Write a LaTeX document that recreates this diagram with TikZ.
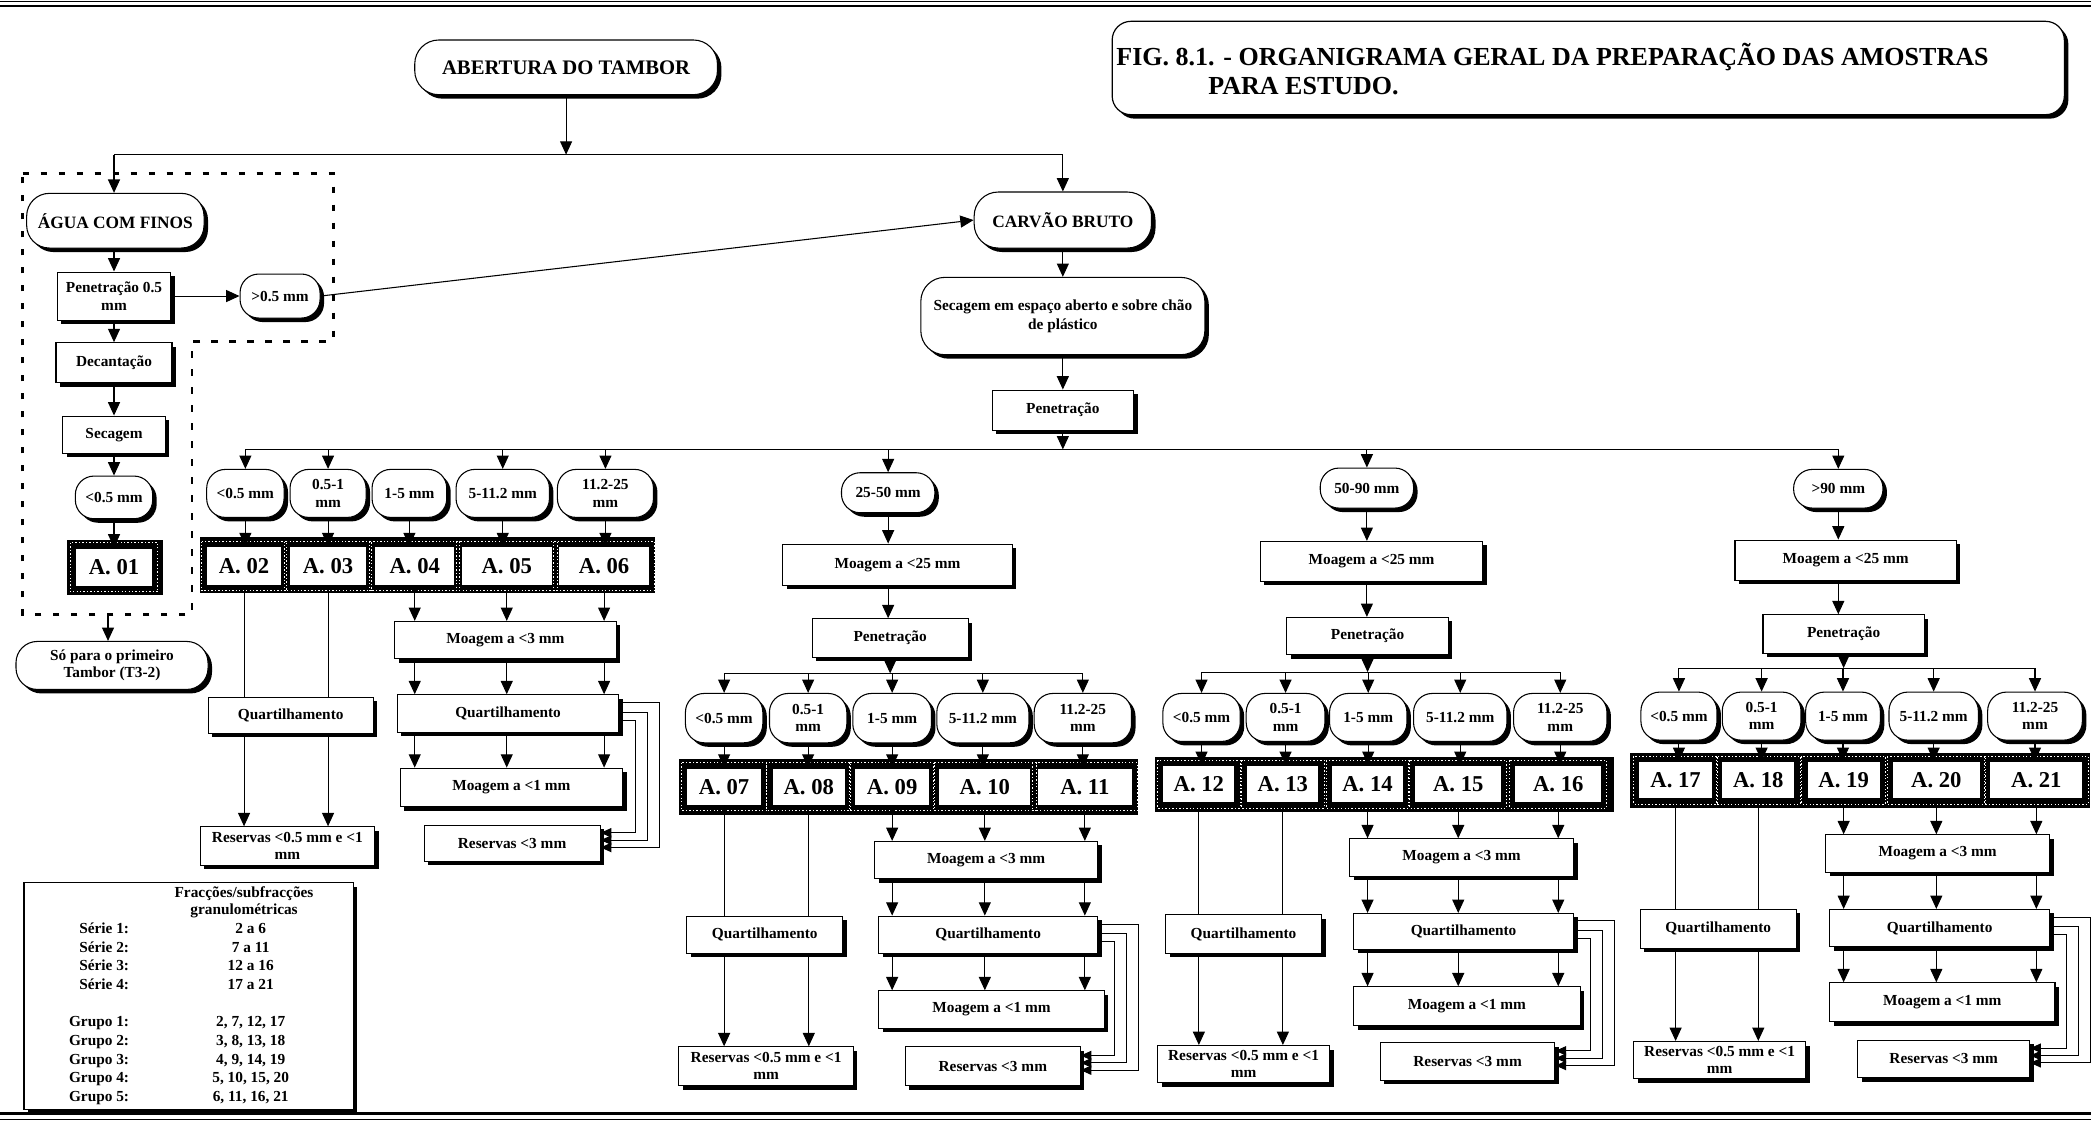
\documentclass[tikz,border=0pt]{standalone}
\usepackage{fontspec}
\setmainfont{Liberation Serif}
\usetikzlibrary{arrows.meta,shadows}
\tikzset{
  sh/.style={general shadow={fill=black,shadow xshift=3pt,shadow yshift=-3pt}},
  txt/.style={font=\fontsize{11.5}{13}\selectfont\bfseries},
  box/.style={draw,line width=0.8pt,fill=white,inner sep=0pt,align=center,txt,sh},
  term/.style={box,rounded corners=17pt},
  ell/.style={box,rounded corners=14pt},
  cell/.style={draw,line width=0.8pt,fill=white,inner sep=0pt,minimum height=28pt,font=\fontsize{17}{19}\selectfont\bfseries},
  ln/.style={line width=0.8pt},
  arr/.style={line width=0.8pt,-{Triangle[length=10pt,width=9pt]}},
  fbarr/.style={line width=0.8pt,-{Triangle[length=8pt,width=7pt]}},
  dotw/.style={white,line width=0.7pt,dash pattern=on 1pt off 1.6pt},
  dashbox/.style={line width=2pt,dash pattern=on 5pt off 8.5pt},
}
\newcommand\fbk[2]{%
  \draw[fbarr] ([yshift=8pt]#1.east) -- ++(30pt,0) |- ([yshift=-3pt]#2.east);
  \draw[fbarr] ([yshift=1pt]#1.east) -- ++(21pt,0) |- ([yshift=2.5pt]#2.east);
  \draw[fbarr] ([yshift=-5pt]#1.east) -- ++(12pt,0) |- ([yshift=8pt]#2.east);
}
\newcommand\dotcells[1]{\foreach \n in {#1}{\draw[dotw] ([shift={(-3.5pt,3.5pt)}]\n.north west) rectangle ([shift={(3.5pt,-3.5pt)}]\n.south east);}}
\begin{document}
\begin{tikzpicture}[x=1pt,y=-1pt]
\useasboundingbox (0,0) rectangle (1568,842);
% page rules
\draw[line width=0.6pt] (0,1) -- (1568,1);
\draw[line width=1.6pt] (0,4.5) -- (1568,4.5);
\draw[line width=1.6pt] (0,835) -- (1568,835);
\draw[line width=0.6pt] (0,839.5) -- (1568,839.5);

% title
\node[draw,line width=0.9pt,fill=white,rounded corners=14pt,sh,inner sep=0pt,minimum width=714pt,minimum height=70pt] (fig) at (1191,51) {};
\node[anchor=base west,inner sep=0pt,font=\fontsize{19.5}{22}\selectfont\bfseries] (figa) at (837,49) {FIG. 8.1. - ORGANIGRAMA GERAL DA PREPARAÇÃO DAS AMOSTRAS};
\node[anchor=base west,inner sep=0pt,font=\fontsize{19.5}{22}\selectfont\bfseries] (figb) at (906,71) {PARA ESTUDO.};

% top
\node[term,rounded corners=18pt,minimum width=227pt,minimum height=41pt,font=\fontsize{15.5}{17}\selectfont\bfseries] (ab) at (424.5,50.5) {ABERTURA DO TAMBOR};
\coordinate (topL) at (85.5,116);
\coordinate (topR) at (797,116);

% left column
\draw[dashbox] (17,130) -- (250,130) -- (250,256) -- (144,256) -- (144,461) -- (17,461) -- cycle;
\coordinate (dashbot) at (81,461);
\node[term,minimum width=133pt,minimum height=41pt,font=\fontsize{13}{15}\selectfont\bfseries] (agua) at (86.5,165.5) {ÁGUA COM FINOS};
\node[box,minimum width=85pt,minimum height=36pt] (pen05) at (85.5,222) {Penetração 0.5\\mm};
\node[ell,minimum width=60pt,minimum height=33pt] (gt05) at (210,222) {>0.5 mm};
\node[box,minimum width=87pt,minimum height=30pt] (dec) at (85.5,272) {Decantação};
\node[box,minimum width=77pt,minimum height=28pt] (sec) at (85.5,326) {Secagem};
\node[ell,minimum width=58pt,minimum height=32pt] (lt05) at (85.5,373) {<0.5 mm};
\fill (50,405) rectangle (122,446);
\node[cell,minimum width=58pt,minimum height=29pt] (a01) at (85.5,425.5) {A. 01};
\dotcells{a01}
\node[term,rounded corners=16pt,minimum width=144pt,minimum height=36pt] (so) at (84,499) {Só para o primeiro\\Tambor (T3-2)};

% centre column
\node[term,rounded corners=18pt,minimum width=133pt,minimum height=42pt,font=\fontsize{13}{15}\selectfont\bfseries] (carvao) at (797,165) {CARVÃO BRUTO};
\node[term,rounded corners=18pt,minimum width=213pt,minimum height=58pt,font=\fontsize{11.5}{14}\selectfont\bfseries] (secesp) at (797,237) {Secagem em espaço aberto e sobre chão\\de plástico};
\node[box,minimum width=106pt,minimum height=30pt] (pen1) at (797,307.5) {Penetração};
\coordinate (br1) at (0,337);

% ---------- group 1 ----------
\node[ell,minimum width=58pt,minimum height=36pt] (e02) at (184,370) {<0.5 mm};
\node[ell,minimum width=57pt,minimum height=36pt] (e03) at (246,370) {0.5-1\\mm};
\node[ell,minimum width=56pt,minimum height=36pt] (e04) at (307,370) {1-5 mm};
\node[ell,minimum width=70pt,minimum height=36pt] (e05) at (377,370) {5-11.2 mm};
\node[ell,minimum width=72pt,minimum height=36pt] (e06) at (454,370) {11.2-25\\mm};
\fill (150,403) rectangle (491,445);
\node[cell,minimum width=56pt,minimum height=29pt] (a02) at (183,424.5) {A. 02};
\node[cell,minimum width=58pt,minimum height=29pt] (a03) at (246,424.5) {A. 03};
\node[cell,minimum width=60pt,minimum height=29pt] (a04) at (311,424.5) {A. 04};
\node[cell,minimum width=68pt,minimum height=29pt] (a05) at (380,424.5) {A. 05};
\node[cell,minimum width=68pt,minimum height=29pt] (a06) at (453,424.5) {A. 06};
\dotcells{a02,a03,a04,a05,a06}
\node[box,minimum width=124pt,minimum height=27pt] (q1L) at (218,536.5) {Quartilhamento};
\node[box,minimum width=131pt,minimum height=29pt] (r1L) at (215.5,634.5) {Reservas <0.5 mm e <1\\mm};
\node[box,minimum width=166pt,minimum height=28pt] (m3a) at (379,480) {Moagem a <3 mm};
\node[box,minimum width=166pt,minimum height=28pt] (q1R) at (381,535) {Quartilhamento};
\node[box,minimum width=167pt,minimum height=29pt] (m1a) at (383.5,590.5) {Moagem a <1 mm};
\node[box,minimum width=132pt,minimum height=27pt] (r1R) at (384,632.5) {Reservas <3 mm};

% ---------- group 2 ----------
\node[ell,minimum width=70pt,minimum height=30pt] (e25) at (666,369.5) {25-50 mm};
\node[box,minimum width=172pt,minimum height=31pt] (mg2) at (673,423.5) {Moagem a <25 mm};
\node[box,minimum width=117pt,minimum height=29pt] (pen2) at (667.5,478.5) {Penetração};
\coordinate (br2) at (0,505);
\node[ell,minimum width=58pt,minimum height=37pt] (e07) at (543,538.5) {<0.5 mm};
\node[ell,minimum width=58pt,minimum height=37pt] (e08) at (606,538.5) {0.5-1\\mm};
\node[ell,minimum width=59pt,minimum height=37pt] (e09) at (669,538.5) {1-5 mm};
\node[ell,minimum width=69pt,minimum height=37pt] (e10) at (737,538.5) {5-11.2 mm};
\node[ell,minimum width=73pt,minimum height=37pt] (e11) at (812,538.5) {11.2-25\\mm};
\fill (509,569) rectangle (853,611);
\node[cell,minimum width=56pt] (a07) at (543,590) {A. 07};
\node[cell,minimum width=55pt] (a08) at (606.5,590) {A. 08};
\node[cell,minimum width=56pt] (a09) at (669,590) {A. 09};
\node[cell,minimum width=69pt] (a10) at (738.5,590) {A. 10};
\node[cell,minimum width=71pt] (a11) at (813.5,590) {A. 11};
\dotcells{a07,a08,a09,a10,a11}
\node[box,minimum width=117pt,minimum height=28pt] (q2L) at (573.5,701) {Quartilhamento};
\node[box,minimum width=131pt,minimum height=29pt] (r2L) at (574.5,799.5) {Reservas <0.5 mm e <1\\mm};
\node[box,minimum width=167pt,minimum height=28pt] (m3b) at (739.5,645) {Moagem a <3 mm};
\node[box,minimum width=164pt,minimum height=28pt] (q2R) at (741,701) {Quartilhamento};
\node[box,minimum width=169pt,minimum height=28pt] (m1b) at (743.5,757) {Moagem a <1 mm};
\node[box,minimum width=131pt,minimum height=29pt] (r2R) at (744.5,799.5) {Reservas <3 mm};

% ---------- group 3 ----------
\node[ell,minimum width=70pt,minimum height=30pt] (e50) at (1025,366) {50-90 mm};
\node[box,minimum width=167pt,minimum height=30pt] (mg3) at (1028.5,421) {Moagem a <25 mm};
\node[box,minimum width=121pt,minimum height=28pt] (pen3) at (1025.5,477) {Penetração};
\coordinate (br3) at (0,504);
\node[ell,minimum width=58pt,minimum height=36pt] (e12) at (901,538) {<0.5 mm};
\node[ell,minimum width=59pt,minimum height=36pt] (e13) at (964,538) {0.5-1\\mm};
\node[ell,minimum width=58pt,minimum height=36pt] (e14) at (1026,538) {1-5 mm};
\node[ell,minimum width=70pt,minimum height=36pt] (e15) at (1095,538) {5-11.2 mm};
\node[ell,minimum width=70pt,minimum height=36pt] (e16) at (1170,538) {11.2-25\\mm};
\fill (866,568) rectangle (1210,609);
\node[cell,minimum width=54pt] (a12) at (899,588) {A. 12};
\node[cell,minimum width=54pt] (a13) at (962,588) {A. 13};
\node[cell,minimum width=54pt] (a14) at (1025.5,588) {A. 14};
\node[cell,minimum width=65pt] (a15) at (1093.5,588) {A. 15};
\node[cell,minimum width=65pt] (a16) at (1168.5,588) {A. 16};
\dotcells{a12,a13,a14,a15,a16}
\node[box,minimum width=117pt,minimum height=29pt] (q3L) at (932.5,700.5) {Quartilhamento};
\node[box,minimum width=129pt,minimum height=28pt] (r3L) at (932.5,798) {Reservas <0.5 mm e <1\\mm};
\node[box,minimum width=168pt,minimum height=28pt] (m3c) at (1096,643) {Moagem a <3 mm};
\node[box,minimum width=165pt,minimum height=27pt] (q3R) at (1097.5,698.5) {Quartilhamento};
\node[box,minimum width=170pt,minimum height=29pt] (m1c) at (1100,754.5) {Moagem a <1 mm};
\node[box,minimum width=131pt,minimum height=28pt] (r3R) at (1100.5,796) {Reservas <3 mm};

% ---------- group 4 ----------
\node[ell,minimum width=67pt,minimum height=29pt] (e90) at (1378.5,366.5) {>90 mm};
\node[box,minimum width=166pt,minimum height=30pt] (mg4) at (1384,420) {Moagem a <25 mm};
\node[box,minimum width=121pt,minimum height=29pt] (pen4) at (1382.5,475.5) {Penetração};
\coordinate (br4) at (0,501);
\node[ell,minimum width=57pt,minimum height=36pt] (e17) at (1259,537) {<0.5 mm};
\node[ell,minimum width=59pt,minimum height=36pt] (e18) at (1321,537) {0.5-1\\mm};
\node[ell,minimum width=56pt,minimum height=36pt] (e19) at (1382,537) {1-5 mm};
\node[ell,minimum width=67pt,minimum height=36pt] (e20) at (1450,537) {5-11.2 mm};
\node[ell,minimum width=71pt,minimum height=36pt] (e21) at (1526,537) {11.2-25\\mm};
\fill (1222,565) rectangle (1567,606);
\node[cell,minimum width=55pt] (a17) at (1256.5,585) {A. 17};
\node[cell,minimum width=55pt] (a18) at (1318.5,585) {A. 18};
\node[cell,minimum width=55pt] (a19) at (1382.5,585) {A. 19};
\node[cell,minimum width=66pt] (a20) at (1452,585) {A. 20};
\node[cell,minimum width=70pt] (a21) at (1527,585) {A. 21};
\dotcells{a17,a18,a19,a20,a21}
\node[box,minimum width=117pt,minimum height=29pt] (q4L) at (1288.5,696.5) {Quartilhamento};
\node[box,minimum width=129pt,minimum height=28pt] (r4L) at (1289.5,795) {Reservas <0.5 mm e <1\\mm};
\node[box,minimum width=168pt,minimum height=28pt] (m3d) at (1453,640) {Moagem a <3 mm};
\node[box,minimum width=165pt,minimum height=28pt] (q4R) at (1454.5,696) {Quartilhamento};
\node[box,minimum width=169pt,minimum height=29pt] (m1d) at (1456.5,751.5) {Moagem a <1 mm};
\node[box,minimum width=129pt,minimum height=28pt] (r4R) at (1457.5,794) {Reservas <3 mm};

% legend
\node[draw,line width=0.8pt,fill=white,sh,inner sep=0pt,minimum width=247pt,minimum height=170pt] (leg) at (141.5,747) {};
\node[txt,anchor=base,inner sep=0pt] (lh1) at (183,673) {Fracções/subfracções};
\node[txt,anchor=base,inner sep=0pt] (lh2) at (183,686) {granulométricas};
\node[txt,anchor=base east,inner sep=0pt] (ls1) at (97,700) {Série 1:};
\node[txt,anchor=base,inner sep=0pt] (lv1) at (188,700) {2 a 6};
\node[txt,anchor=base east,inner sep=0pt] (ls2) at (97,714) {Série 2:};
\node[txt,anchor=base,inner sep=0pt] (lv2) at (188,714) {7 a 11};
\node[txt,anchor=base east,inner sep=0pt] (ls3) at (97,728) {Série 3:};
\node[txt,anchor=base,inner sep=0pt] (lv3) at (188,728) {12 a 16};
\node[txt,anchor=base east,inner sep=0pt] (ls4) at (97,742) {Série 4:};
\node[txt,anchor=base,inner sep=0pt] (lv4) at (188,742) {17 a 21};
\node[txt,anchor=base east,inner sep=0pt] (lg1) at (97,770) {Grupo 1:};
\node[txt,anchor=base,inner sep=0pt] (lw1) at (188,770) {2, 7, 12, 17};
\node[txt,anchor=base east,inner sep=0pt] (lg2) at (97,784) {Grupo 2:};
\node[txt,anchor=base,inner sep=0pt] (lw2) at (188,784) {3, 8, 13, 18};
\node[txt,anchor=base east,inner sep=0pt] (lg3) at (97,798) {Grupo 3:};
\node[txt,anchor=base,inner sep=0pt] (lw3) at (188,798) {4, 9, 14, 19};
\node[txt,anchor=base east,inner sep=0pt] (lg4) at (97,812) {Grupo 4:};
\node[txt,anchor=base,inner sep=0pt] (lw4) at (188,812) {5, 10, 15, 20};
\node[txt,anchor=base east,inner sep=0pt] (lg5) at (97,826) {Grupo 5:};
\node[txt,anchor=base,inner sep=0pt] (lw5) at (188,826) {6, 11, 16, 21};

% ================= connectors =================
\draw[arr] (ab.south) -- (ab.south |- topL);
\draw[ln] (topL) -- (topR);
\draw[arr] (topL) -- (topL |- agua.north);
\draw[arr] (topR) -- (carvao.north);
% left chain
\draw[arr] (agua.south -| pen05.north) -- (pen05.north);
\draw[arr] (pen05.east) -- (gt05.west);
\draw[arr] (gt05.east) -- (carvao.west);
\draw[arr] (pen05.south) -- (dec.north);
\draw[arr] (dec.south) -- (sec.north);
\draw[arr] (sec.south) -- (lt05.north);
\draw[arr] (lt05.south) -- (a01.north);
\draw[arr] (dashbot) -- (dashbot |- so.north);
% centre chain
\draw[arr] (carvao.south) -- (secesp.north);
\draw[arr] (secesp.south) -- (pen1.north);
\draw[arr] (pen1.south) -- (pen1.south |- br1);
\draw[ln] (e02.north |- br1) -- (e90.north |- br1);
\foreach \n in {e02,e03,e05,e06,e25,e50,e90} \draw[arr] (\n.north |- br1) -- (\n.north);
% group 1
\foreach \e/\a in {e02/a02,e03/a03,e04/a04,e05/a05,e06/a06} \draw[arr] (\e.south) -- (\e.south |- \a.north);
\foreach \n in {a02,a03}{
  \draw[ln] (\n.south) -- (\n.south |- q1L.north);
  \draw[arr] (\n.south |- q1L.south) -- (\n.south |- r1L.north);}
\foreach \n in {a04,a05,a06}{
  \draw[arr] (\n.south) -- (\n.south |- m3a.north);
  \draw[arr] (\n.south |- m3a.south) -- (\n.south |- q1R.north);
  \draw[arr] (\n.south |- q1R.south) -- (\n.south |- m1a.north);}
\fbk{q1R}{r1R}
% group 2
\draw[arr] (e25.south) -- (e25.south |- mg2.north);
\draw[arr] (e25.south |- mg2.south) -- (e25.south |- pen2.north);
\draw[arr] (pen2.south) -- (pen2.south |- br2);
\draw[ln] (e07.north |- br2) -- (e11.north |- br2);
\foreach \n in {e07,e08,e09,e10,e11} \draw[arr] (\n.north |- br2) -- (\n.north);
\foreach \e/\a in {e07/a07,e08/a08,e09/a09,e10/a10,e11/a11} \draw[arr] (\e.south) -- (\e.south |- \a.north);
\foreach \n in {a07,a08}{
  \draw[ln] (\n.south) -- (\n.south |- q2L.north);
  \draw[arr] (\n.south |- q2L.south) -- (\n.south |- r2L.north);}
\foreach \n in {a09,a10,a11}{
  \draw[arr] (\n.south) -- (\n.south |- m3b.north);
  \draw[arr] (\n.south |- m3b.south) -- (\n.south |- q2R.north);
  \draw[arr] (\n.south |- q2R.south) -- (\n.south |- m1b.north);}
\fbk{q2R}{r2R}
% group 3
\draw[arr] (e50.south) -- (e50.south |- mg3.north);
\draw[arr] (e50.south |- mg3.south) -- (e50.south |- pen3.north);
\draw[arr] (pen3.south) -- (pen3.south |- br3);
\draw[ln] (e12.north |- br3) -- (e16.north |- br3);
\foreach \n in {e12,e13,e14,e15,e16} \draw[arr] (\n.north |- br3) -- (\n.north);
\foreach \e/\a in {e12/a12,e13/a13,e14/a14,e15/a15,e16/a16} \draw[arr] (\e.south) -- (\e.south |- \a.north);
\foreach \n in {a12,a13}{
  \draw[ln] (\n.south) -- (\n.south |- q3L.north);
  \draw[arr] (\n.south |- q3L.south) -- (\n.south |- r3L.north);}
\foreach \n in {a14,a15,a16}{
  \draw[arr] (\n.south) -- (\n.south |- m3c.north);
  \draw[arr] (\n.south |- m3c.south) -- (\n.south |- q3R.north);
  \draw[arr] (\n.south |- q3R.south) -- (\n.south |- m1c.north);}
\fbk{q3R}{r3R}
% group 4
\draw[arr] (e90.south) -- (e90.south |- mg4.north);
\draw[arr] (e90.south |- mg4.south) -- (e90.south |- pen4.north);
\draw[arr] (pen4.south) -- (pen4.south |- br4);
\draw[ln] (e17.north |- br4) -- (e21.north |- br4);
\foreach \n in {e17,e18,e19,e20,e21} \draw[arr] (\n.north |- br4) -- (\n.north);
\foreach \e/\a in {e17/a17,e18/a18,e19/a19,e20/a20,e21/a21} \draw[arr] (\e.south) -- (\e.south |- \a.north);
\foreach \n in {a17,a18}{
  \draw[ln] (\n.south) -- (\n.south |- q4L.north);
  \draw[arr] (\n.south |- q4L.south) -- (\n.south |- r4L.north);}
\foreach \n in {a19,a20,a21}{
  \draw[arr] (\n.south) -- (\n.south |- m3d.north);
  \draw[arr] (\n.south |- m3d.south) -- (\n.south |- q4R.north);
  \draw[arr] (\n.south |- q4R.south) -- (\n.south |- m1d.north);}
\fbk{q4R}{r4R}
\end{tikzpicture}
\end{document}
